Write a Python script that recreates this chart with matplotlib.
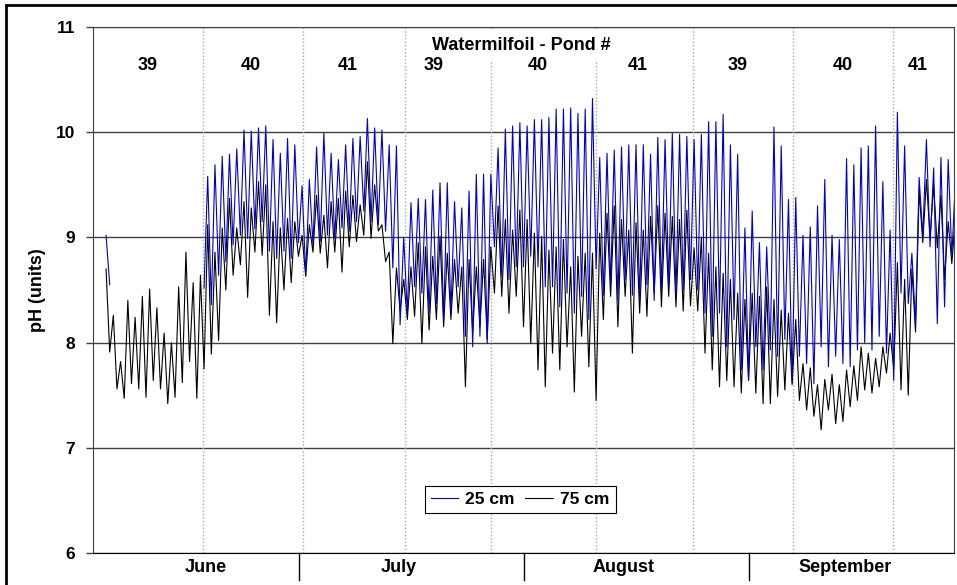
import numpy as np
import matplotlib
matplotlib.use('Agg')
import matplotlib.pyplot as plt
from matplotlib.lines import Line2D
from matplotlib.patches import Rectangle
from matplotlib.transforms import blended_transform_factory

plt.rcParams['font.family'] = ['Liberation Sans', 'DejaVu Sans']
plt.rcParams['font.weight'] = 'bold'

# time axis: days counted from June 1 (0 = June 1, 00:00)
first_day = 3  # first logged day (June 4)

# daily morning low / afternoon high of pH, one value per day from first_day
nan = np.nan
ph25_lo = ([nan, 8.55] + [nan] * 12 +
           [8.52, 8.36, 8.64, 8.77, 8.93, 9.02, 8.99, 9.08, 9.15, 8.87, 8.80, 8.87, 8.80, 8.95] +
           [8.64, 8.93, 8.96, 9.02, 8.99, 9.09, 9.06, 9.15, 9.25, 9.15, 9.12, 9.06, 8.71, 8.17] +
           [8.28, 8.53, 8.47, 8.28, 8.37, 8.22, 8.28, 8.53, 8.06, 7.96, 8.06, 7.99] +
           [8.91, 8.63, 8.60, 8.72, 8.72, 8.82, 8.72, 8.53, 8.53, 8.34, 8.47, 8.28, 8.44, 8.22] +
           [8.70, 8.45, 8.55, 8.40, 8.60, 8.45, 8.40, 8.55, 8.40, 8.50, 8.55, 8.45, 8.50, 8.60] +
           [8.50, 8.28, 8.06, 8.28, 7.96, 8.22, 7.74, 7.64, 7.96, 7.74, 7.93, 7.87, 8.03] +
           [7.62, 7.87, 7.80, 7.61, 7.96, 7.77, 7.87, 7.80, 7.77, 7.93, 8.00, 7.93, 8.06, 7.90] +
           [7.64, 8.47, 8.37, 8.18, 9.01, 8.91, 8.18, 8.34, 8.82])
ph25_hi = ([9.02, nan] + [nan] * 12 +
           [9.58, 9.69, 9.77, 9.79, 9.84, 10.02, 10.01, 10.04, 10.06, 9.93, 9.80, 9.94, 9.88, 9.49] +
           [9.55, 9.86, 9.99, 9.80, 9.74, 9.88, 9.94, 9.96, 10.13, 10.04, 10.02, 9.88, 9.87, 9.00] +
           [9.33, 9.37, 9.36, 9.45, 9.52, 9.52, 9.34, 9.28, 9.44, 9.60, 9.60, 9.60] +
           [9.85, 10.03, 10.06, 10.09, 10.06, 10.12, 10.12, 10.14, 10.22, 10.22, 10.23, 10.18, 10.22, 10.32] +
           [9.76, 9.80, 9.83, 9.86, 9.88, 9.88, 9.88, 9.79, 9.95, 9.93, 9.99, 9.98, 9.96] +
           [9.93, 9.98, 10.10, 10.10, 10.17, 9.88, 9.79, 9.09, 9.25, 8.95, 8.91, 10.05, 9.87, 9.36] +
           [9.38, 9.02, 9.10, 9.30, 9.55, 9.02, 8.98, 9.75, 9.69, 9.85, 9.87, 10.06, 9.53, 9.07] +
           [10.19, 9.87, 8.85, 9.57, 9.93, 9.66, 9.76, 9.74, 9.55])
ph75_lo = ([nan] +
           [7.91, 7.56, 7.47, 7.61, 7.56, 7.48, 7.64, 7.56, 7.42, 7.48, 7.62, 7.82, 7.47] +
           [7.75, 7.89, 8.02, 8.50, 8.64, 8.74, 8.43, 8.86, 8.83, 8.26, 8.19, 8.50, 8.57, 8.82] +
           [8.63, 8.86, 8.85, 8.71, 8.86, 8.67, 8.91, 8.96, 9.02, 8.99, 9.06, 8.77, 7.99, 8.30] +
           [8.22, 8.25, 7.99, 8.12, 8.22, 8.15, 8.22, 8.28, 7.58, 8.09, 8.15, 8.03] +
           [8.47, 8.44, 8.28, 8.44, 8.15, 7.99, 7.74, 7.58, 7.90, 7.74, 7.96, 7.53, 8.06, 7.77] +
           [7.45, 8.22, 8.44, 8.15, 8.44, 7.90, 8.28, 8.25, 8.47, 8.34, 8.44, 8.34, 8.30, 8.35] +
           [8.30, 7.90, 7.74, 7.58, 7.64, 7.58, 7.52, 7.64, 7.52, 7.42, 7.42, 7.49, 7.55] +
           [7.60, 7.45, 7.36, 7.30, 7.17, 7.36, 7.23, 7.25, 7.39, 7.45, 7.55, 7.52, 7.58, 7.71] +
           [7.75, 7.55, 7.50, 8.10, 8.95, 9.00, 8.90, 8.60, 8.75])
ph75_hi = ([8.70] +
           [8.26, 7.82, 8.40, 8.24, 8.44, 8.51, 8.33, 8.09, 8.00, 8.53, 8.86, 8.57, 8.64] +
           [9.12, 8.86, 9.09, 9.37, 9.09, 9.34, 9.28, 9.53, 9.50, 9.15, 9.09, 9.18, 9.15, 9.02] +
           [9.12, 9.40, 9.21, 9.34, 9.37, 9.44, 9.40, 9.31, 9.72, 9.50, 9.12, 8.86, 8.71, 8.60] +
           [8.72, 8.95, 8.91, 8.82, 9.01, 8.85, 8.79, 8.72, 8.79, 8.72, 8.79, 8.91] +
           [9.30, 9.17, 9.07, 9.26, 9.17, 9.04, 9.01, 8.88, 8.91, 8.98, 8.72, 8.82, 8.85, 8.85] +
           [9.04, 9.23, 9.30, 9.17, 9.07, 9.14, 9.07, 9.20, 9.30, 9.23, 9.20, 9.17, 9.26] +
           [8.90, 9.00, 8.85, 8.72, 8.66, 8.60, 8.47, 8.41, 8.47, 8.44, 8.53, 8.41, 8.31, 8.28] +
           [8.22, 7.80, 7.76, 7.60, 7.65, 7.70, 7.60, 7.74, 7.78, 7.96, 7.90, 7.85, 7.96, 8.09] +
           [8.76, 8.60, 8.70, 9.45, 9.55, 9.50, 9.40, 9.15, 9.20])

# pond rotation: change dates and pond numbers
pond_change_days = [16.8, 30.6, 44.6, 56.5, 70.9, 84.3, 98.1, 111.8]
pond_numbers = ['39', '40', '41', '39', '40', '41', '39', '40', '41']

months = ['June', 'July', 'August', 'September']
month_bounds = [30, 61, 92]

# label placement (days)
pond_label_x = [9.2, 23.4, 36.8, 48.6, 62.9, 76.7, 90.4, 105.0, 115.2]
month_label_x = [17.2, 43.8, 74.7, 105.2]


def daily_to_series(lo, hi):
    days = np.arange(first_day, first_day + len(lo))
    t = np.column_stack([days - 0.05, days + 0.45]).ravel()
    v = np.column_stack([lo, hi]).ravel()
    return t, v


fig = plt.figure(figsize=(9.57, 5.85), dpi=100)
ax = fig.add_axes([93 / 957, 32 / 585, 861 / 957, 526 / 585])

for d in pond_change_days:
    ax.axvline(d, color='#a8a8a8', ls=(0, (1, 1.5)), lw=1, zorder=1)

t75, v75 = daily_to_series(ph75_lo, ph75_hi)
t25, v25 = daily_to_series(ph25_lo, ph25_hi)
ax.plot(t75, v75, color='black', lw=0.8, zorder=3)
ax.plot(t25, v25, color='#0000d0', lw=0.8, zorder=3)

ax.set_xlim(1.65, 120.25)
ax.set_ylim(6, 11)
ax.set_yticks(range(6, 12))
ax.set_xticks([])
ax.yaxis.grid(True, color='#404040', lw=1)
ax.set_axisbelow(True)
ax.tick_params(axis='y', length=5, width=1, pad=8, labelsize=12.5, color='#404040')
for lab in ax.get_yticklabels():
    lab.set_fontweight('bold')
for side in ['top', 'right', 'left']:
    ax.spines[side].set_color('#404040')
ax.spines['bottom'].set_color('black')

# month separators and labels under the axis
trans = blended_transform_factory(ax.transData, ax.transAxes)
for d in month_bounds:
    ax.plot([d, d], [0, -0.052], color='black', lw=1, transform=trans, clip_on=False)
for name, x in zip(months, month_label_x):
    ax.text(x, -0.027, name, transform=trans, ha='center', va='center',
            fontsize=13, fontweight='bold')

# title box (hides the dotted lines behind it) and pond numbers
ax.text(0.498, 0.965, 'Watermilfoil - Pond #', transform=ax.transAxes, ha='center', va='center',
        fontsize=13, fontweight='bold', zorder=5,
        bbox=dict(facecolor='white', edgecolor='none', pad=5))
for num, x in zip(pond_numbers, pond_label_x):
    ax.text(x, 10.63, num, ha='center', va='center', fontsize=13, fontweight='bold', zorder=6)

ax.text(-0.064, 0.5, 'pH (units)', transform=ax.transAxes, rotation=90,
        ha='center', va='center', fontsize=13, fontweight='bold')

handles = [Line2D([], [], color='#0000d0', lw=0.8), Line2D([], [], color='black', lw=0.8)]
leg = ax.legend(handles, ['25 cm', '75 cm'], ncol=2, loc='center', bbox_to_anchor=(0.496, 0.102),
                fancybox=False, edgecolor='black', framealpha=1, handlelength=1.6,
                handletextpad=0.4, columnspacing=0.6, borderpad=0.35,
                prop={'weight': 'bold', 'size': 12.5})
leg.get_frame().set_linewidth(0.8)

# outer chart border
fig.add_artist(Rectangle((6 / 957, -0.02), 1.0, 1 - 5 / 585 + 0.02, transform=fig.transFigure,
                         fill=False, edgecolor='black', lw=2, clip_on=False))

fig.savefig('out.png', dpi=100)
